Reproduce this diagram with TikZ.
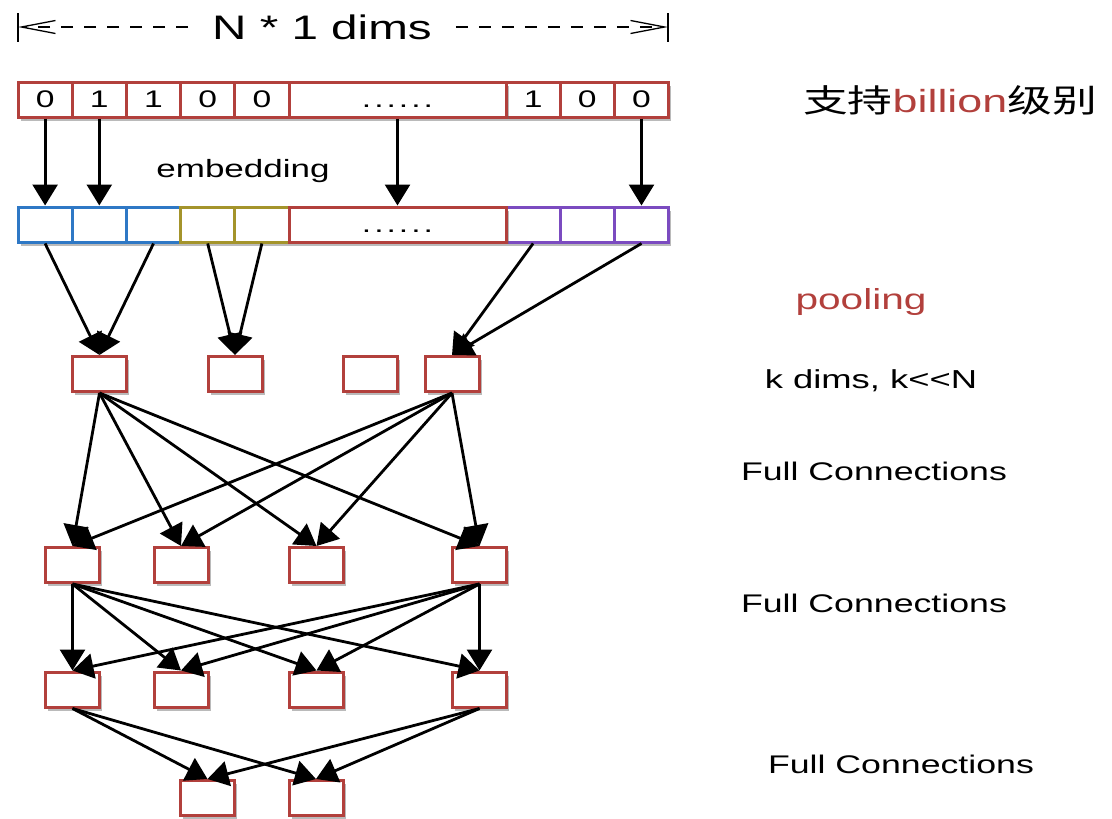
\documentclass[tikz,border=0pt]{standalone}
\usepackage{fontspec}
\setmainfont[FakeStretch=1.4]{Liberation Sans}
\newfontfamily\cjk[FakeStretch=1.4]{Noto Sans CJK SC}
\usetikzlibrary{positioning, arrows.meta, shadows}
\definecolor{Dark}{HTML}{000000}
\definecolor{Brick}{HTML}{B2403C}
\definecolor{Ocean}{HTML}{2E78C5}
\definecolor{Olive}{HTML}{A4942B}
\definecolor{Violet}{HTML}{7B4BC0}
\newcommand{\sixdots}{.\kern3pt.\kern3pt.\kern3pt.\kern3pt.\kern3pt.}
\tikzset{
    cell/.style={rectangle, draw=Brick, line width=3pt, fill=white, minimum width=54.2pt, minimum height=35pt,
        inner sep=0pt, text height=16.3pt, text depth=0pt, font=\fontsize{24}{26}\selectfont,
        drop shadow={fill=black!60, opacity=0.45, shadow xshift=2.5pt, shadow yshift=-3.5pt}},
    widecell/.style={cell, minimum width=217pt},
    unit/.style={cell, minimum width=54pt},
    arrow/.style={-{Triangle[length=21pt,width=25pt]}, line width=2.8pt, color=Dark},
    note/.style={anchor=base, text=Dark, font=\fontsize{25.5}{28}\selectfont},
    dimline/.style={-{Straight Barb[length=34pt,width=13pt]}, line width=1.3pt, dash pattern=on 12pt off 11pt},
    dimbar/.style={line width=2.4pt},
}

\begin{document}
\begin{tikzpicture}[x=1pt, y=-1pt]
    \useasboundingbox (0,0) rectangle (1112,819);

    % N * 1 dims
    \node[font=\fontsize{34}{36}\selectfont, inner xsep=24pt] (dims) at (322,27) {N * 1 dims};
    \coordinate (dimL) at (18,27);
    \coordinate (dimR) at (668,27);
    \draw[dimbar] (dimL) ++(0,-14) -- ++(0,29);
    \draw[dimbar] (dimR) ++(0,-14) -- ++(0,29);
    \draw[dimline] (dims.west) -- (dimL);
    \draw[dimline] (dims.east) -- (dimR);

    % one-hot input
    \foreach \i/\x/\b in {1/45.1/0, 2/99.3/1, 3/153.5/1, 4/207.7/0, 5/261.9/0, 7/533.1/1, 8/587.3/0, 9/641.5/0}
        \node[cell] (in\i) at (\x,99.5) {\b};
    \node[widecell] (in6) at (397.5,99.5) {\sixdots};

    % embedding row
    \foreach \i/\x/\c in {1/45.1/Ocean, 2/99.3/Ocean, 3/153.5/Ocean, 4/207.7/Olive, 5/261.9/Olive, 7/533.1/Violet, 8/587.3/Violet, 9/641.5/Violet}
        \node[cell, draw=\c] (emb\i) at (\x,224.5) {};
    \node[widecell] (emb6) at (397.5,224.5) {\sixdots};
    \node[note, font=\fontsize{25}{28}\selectfont] (embtxt) at (243,177) {embedding};

    \foreach \i in {1,2,6,9}
        \draw[arrow] (in\i.south) -- (emb\i.north);

    % pooling
    \foreach \i/\x in {1/99.5, 2/235, 3/370.5, 4/452}
        \node[unit] (pool\i) at (\x,374) {};
    \foreach \s/\t in {1/1, 3/1, 4/2, 5/2, 7/4, 9/4}
        \draw[arrow] (emb\s.south) -- (pool\t.north);

    % hidden layers
    \foreach \i/\x in {1/72.5, 2/181, 3/316.5, 4/479.5} {
        \node[unit] (fcA\i) at (\x,565) {};
        \node[unit] (fcB\i) at (\x,689.5) {};
    }
    \node[unit] (out1) at (207.5,798) {};
    \node[unit] (out2) at (316,798) {};

    \foreach \t in {1,...,4} {
        \draw[arrow] (pool1.south) -- (fcA\t.north);
        \draw[arrow] (pool4.south) -- (fcA\t.north);
        \draw[arrow] (fcA1.south) -- (fcB\t.north);
        \draw[arrow] (fcA4.south) -- (fcB\t.north);
    }
    \foreach \t in {1,2} {
        \draw[arrow] (fcB1.south) -- (out\t.north);
        \draw[arrow] (fcB4.south) -- (out\t.north);
    }

    % notes on the right
    \node[note, font=\fontsize{32}{36}\selectfont] (scale) at (950,112) {{\cjk 支持}{\color{Brick}billion}{\cjk 级别}};
    \node[note, text=Brick, font=\fontsize{29}{32}\selectfont] (pooltxt) at (861,309) {pooling};
    \node[note, font=\fontsize{26}{28}\selectfont] (kdims) at (871,388) {k dims, k<{}<N};
    \node[note] (fc1) at (874,480) {Full Connections};
    \node[note] (fc2) at (874,612) {Full Connections};
    \node[note] (fc3) at (901,773) {Full Connections};
\end{tikzpicture}
\end{document}
